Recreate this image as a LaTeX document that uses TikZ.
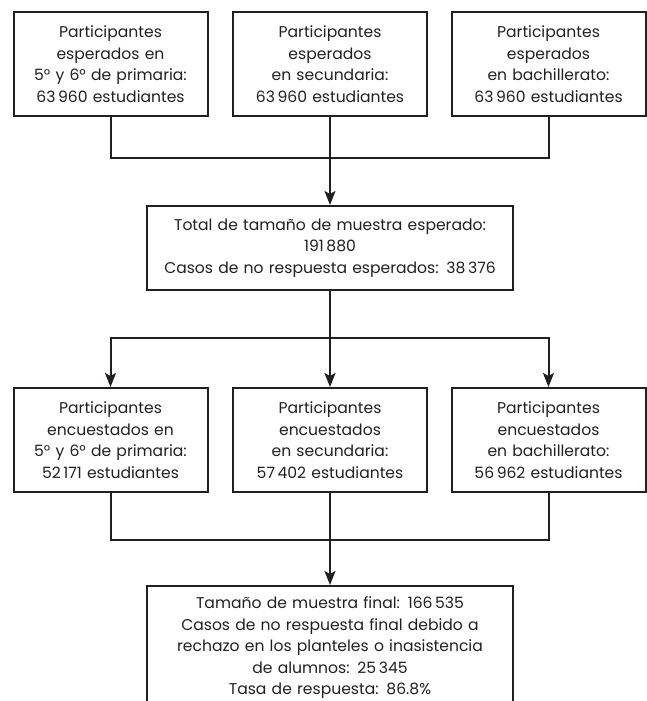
\documentclass[tikz,border=0pt]{standalone}
\usepackage{fontspec}
\setmainfont{Poppins}
\usetikzlibrary{arrows.meta}

\definecolor{linea}{HTML}{231F20}

\tikzset{
  caja/.style={draw, align=center, text=linea, inner xsep=4pt, inner ysep=0pt,
    text width=186pt, minimum height=104pt, font=\fontsize{15.6}{21.5}\selectfont},
  ancha/.style={caja, text width=358pt, minimum height=84pt},
}

\begin{document}
\begin{tikzpicture}[x=1pt, y=-1pt, line width=2pt, draw=linea,
    >={Stealth[length=14pt, width=11pt, inset=3pt]}]
  \clip (0,0) rectangle (647,701);

  % esperados
  \node[caja] (esp1) at (110.5,64) {Participantes\\esperados en\\5° y 6° de primaria:\\63\,960 estudiantes};
  \node[caja] (esp2) at (330,64) {Participantes\\esperados\\en secundaria:\\63\,960 estudiantes};
  \node[caja] (esp3) at (548.5,64) {Participantes\\esperados\\en bachillerato:\\63\,960 estudiantes};

  \node[ancha] (total) at (330,248) {Total de tamaño de muestra esperado:\\191\,880\\Casos de no respuesta esperados: 38\,376};

  % encuestados
  \node[caja] (enc1) at (110.5,440) {Participantes\\encuestados en\\5° y 6° de primaria:\\52\,171 estudiantes};
  \node[caja] (enc2) at (330,440) {Participantes\\encuestados\\en secundaria:\\57\,402 estudiantes};
  \node[caja] (enc3) at (548.5,440) {Participantes\\encuestados\\en bachillerato:\\56\,962 estudiantes};

  \node[ancha, anchor=north, minimum height=124pt] (final) at (330,585) {Tamaño de muestra final: 166\,535\\Casos de no respuesta final debido a\\rechazo en los planteles o inasistencia\\de alumnos: 25\,345\\Tasa de respuesta: 86.8\%};

  \coordinate (u1) at (330,158);
  \coordinate (u2) at (330,338);
  \coordinate (u3) at (330,540);

  \draw (esp1) |- (u1);
  \draw (esp3) |- (u1);
  \draw[->] (esp2) -- (total);

  \draw (total) -- (u2);
  \draw[->] (u2) -| (enc1);
  \draw[->] (u2) -- (enc2);
  \draw[->] (u2) -| (enc3);

  \draw (enc1) |- (u3);
  \draw (enc3) |- (u3);
  \draw[->] (enc2) -- (final);
\end{tikzpicture}
\end{document}
